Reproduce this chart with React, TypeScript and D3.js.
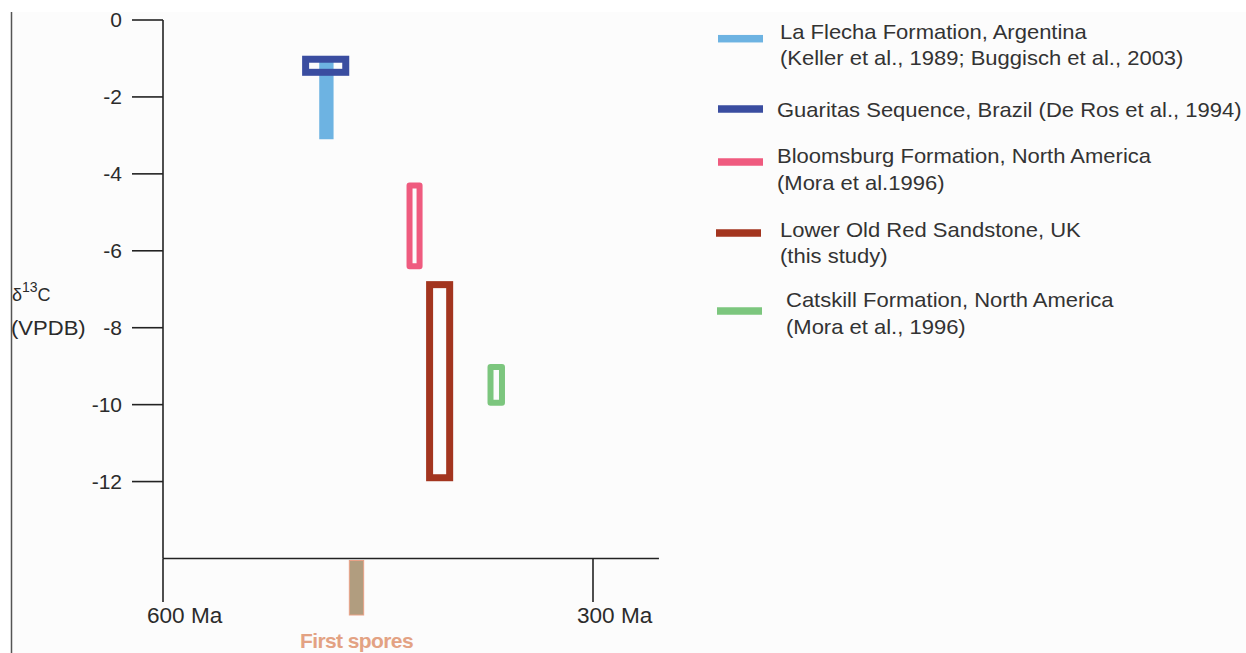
import React from 'react';
import * as d3 from 'd3';

// series: age range (Ma) and d13C range (permil VPDB)
const seriesNames = [
  'La Flecha Formation, Argentina',
  'Guaritas Sequence, Brazil',
  'Bloomsburg Formation, North America',
  'Lower Old Red Sandstone, UK',
  'Catskill Formation, North America',
];
const seriesColors = ['#6db3e2', '#3a4da0', '#ef5b7f', '#a3351f', '#7cc67e'];
const ageOld = [491, 500.5, 428, 414, 371.5];
const ageYoung = [481, 472.5, 421, 400, 363.5];
const d13cTop = [-1.0, -1.02, -4.3, -6.88, -9.02];
const d13cBottom = [-3.1, -1.36, -6.4, -11.9, -9.95];
const isFilledBar = [true, false, false, false, false];
const strokeWidths = [0, 7, 6, 7, 6];

const legendLines = [
  ['La Flecha Formation, Argentina', '(Keller et al., 1989; Buggisch et al., 2003)'],
  ['Guaritas Sequence, Brazil (De Ros et al., 1994)'],
  ['Bloomsburg Formation, North America', '(Mora et al.1996)'],
  ['Lower Old Red Sandstone, UK', '(this study)'],
  ['Catskill Formation, North America', '(Mora et al., 1996)'],
];

const yTicks = [0, -2, -4, -6, -8, -10, -12];
const xTicks = [600, 300];
const xTickLabels = ['600 Ma', '300 Ma'];

const firstSpores = { old: 470, young: 460, label: 'First spores' };

const W = 1246;
const H = 653;
const FONT = '"Liberation Sans", Arial, Helvetica, sans-serif';

// hand-placed legend rows (swatch centre, text baselines, x offsets)
const legendLayout = [
  { sy: 38.7, sx: 718, tx: 780, base: [38.5, 65] },
  { sy: 109, sx: 718, tx: 777, base: [117] },
  { sy: 162, sx: 718, tx: 777, base: [163, 190] },
  { sy: 233, sx: 716, tx: 780, base: [237, 263] },
  { sy: 311, sx: 717, tx: 786, base: [307, 334] },
];

export default function App() {
  const x = d3.scaleLinear().domain([600, 300]).range([163, 593]);
  const y = d3.scaleLinear().domain([0, -14]).range([20, 558.5]);
  const axisY = 558.5;
  const xEnd = x(254);

  return (
    <div style={{ position: 'absolute', left: 0, top: 0 }}>
      <svg width={W} height={H} style={{ display: 'block' }}>
        <rect x={12} y={12} width={W - 12} height={H - 12} fill="#fcfcfc" />
        <line x1={11.5} x2={11.5} y1={12} y2={H} stroke="#555" strokeWidth={1.5} />

        {/* y axis */}
        <line x1={x(600)} x2={x(600)} y1={y(0)} y2={axisY} stroke="#222" strokeWidth={1.6} />
        {yTicks.map((t) => (
          <g key={t}>
            <line x1={132} x2={x(600)} y1={y(t)} y2={y(t)} stroke="#222" strokeWidth={1.6} />
            <text
              transform={`translate(122,${y(t) + 7}) scale(1.05,1)`}
              textAnchor="end"
              fontFamily={FONT}
              fontSize={20}
              fill="#2b2b2b"
            >
              {t}
            </text>
          </g>
        ))}
        <text x={12} y={301} fontFamily={FONT} fill="#2b2b2b">
          <tspan fontSize={18}>δ</tspan>
          <tspan fontSize={14} dy={-9}>13</tspan>
          <tspan fontSize={18} dy={9}>C</tspan>
        </text>
        <text transform="translate(11,335) scale(1.05,1)" fontFamily={FONT} fontSize={21} fill="#2b2b2b">
          (VPDB)
        </text>

        {/* x axis */}
        <line x1={x(600)} x2={xEnd} y1={axisY} y2={axisY} stroke="#222" strokeWidth={1.6} />
        {xTicks.map((t, i) => (
          <g key={t}>
            <line x1={x(t)} x2={x(t)} y1={axisY} y2={602} stroke="#222" strokeWidth={1.6} />
            <text
              transform={`translate(${x(t) - 16},623) scale(1.05,1)`}
              fontFamily={FONT}
              fontSize={21.5}
              fill="#2b2b2b"
            >
              {xTickLabels[i]}
            </text>
          </g>
        ))}

        {/* first spores */}
        <rect
          x={x(firstSpores.old)}
          y={axisY + 2}
          width={x(firstSpores.young) - x(firstSpores.old)}
          height={615 - axisY - 2}
          fill="#b19d7f"
          stroke="#e9a287"
          strokeWidth={1}
        />
        <text
          x={(x(firstSpores.old) + x(firstSpores.young)) / 2}
          y={648}
          textAnchor="middle"
          fontFamily='"Liberation Sans Narrow", "Liberation Sans", sans-serif'
          fontWeight="bold"
          fontSize={21}
          letterSpacing={-0.6}
          fill="#e3a283"
        >
          {firstSpores.label}
        </text>

        {/* data marks */}
        {seriesNames.map((name, i) => {
          const x0 = x(ageOld[i]);
          const x1 = x(ageYoung[i]);
          const y0 = y(d13cTop[i]);
          const y1 = y(d13cBottom[i]);
          if (isFilledBar[i]) {
            return <rect key={name} x={x0} y={y0} width={x1 - x0} height={y1 - y0} fill={seriesColors[i]} />;
          }
          return (
            <rect
              key={name}
              x={x0}
              y={y0}
              width={x1 - x0}
              height={y1 - y0}
              fill="none"
              stroke={seriesColors[i]}
              strokeWidth={strokeWidths[i]}
              strokeLinejoin={i === 2 || i === 4 ? 'round' : 'miter'}
            />
          );
        })}

        {/* legend */}
        {legendLines.map((lines, i) => {
          const l = legendLayout[i];
          return (
            <g key={i}>
              <rect x={l.sx} y={l.sy - 3.75} width={45} height={7.5} fill={seriesColors[i]} />
              {lines.map((s, j) => (
                <text
                  key={j}
                  transform={`translate(${l.tx},${l.base[j]}) scale(1.1,1)`}
                  fontFamily={FONT}
                  fontSize={20}
                  fill="#333"
                >
                  {s}
                </text>
              ))}
            </g>
          );
        })}
      </svg>
    </div>
  );
}
